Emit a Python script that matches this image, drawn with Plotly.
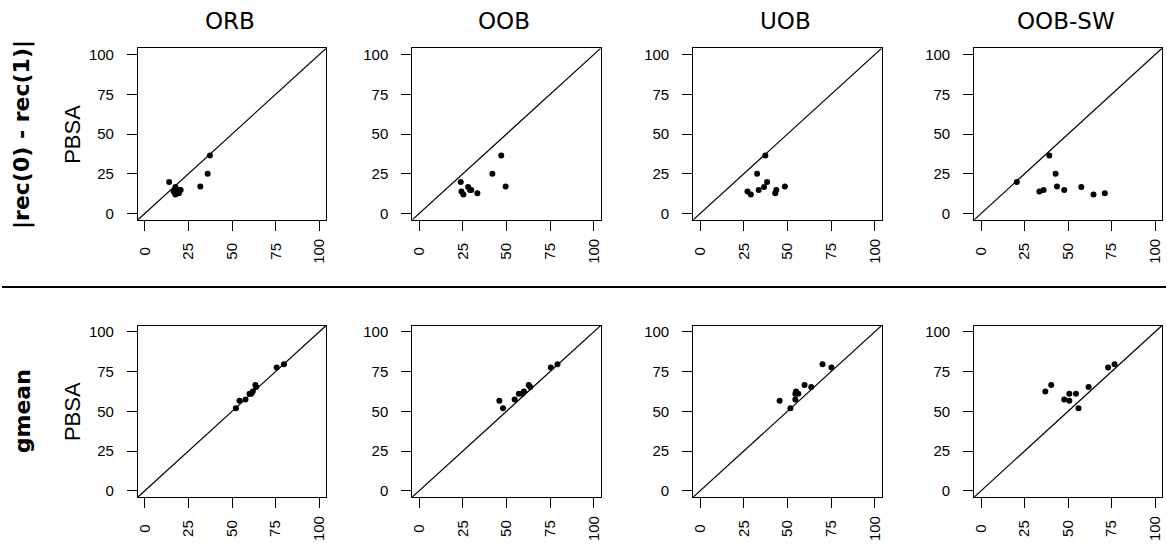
import plotly.graph_objects as go

methods = ["ORB", "OOB", "UOB", "OOB-SW"]
row_labels = ["|rec(0) - rec(1)|", "gmean"]
tick_vals = [0, 25, 50, 75, 100]
tick_text = ["0", "25", "50", "75", "100"]

# Row 1: |rec(0) - rec(1)|  (y = PBSA, x = method)
pbsa_diff = [36.5, 25.0, 19.8, 16.9, 16.7, 14.8, 14.8, 13.8, 12.7, 11.9]
diff_orb = [37.3, 36.0, 13.9, 31.8, 17.5, 19.0, 20.5, 16.5, 19.5, 17.5]
diff_oob = [47.0, 41.9, 23.8, 49.5, 28.0, 29.1, 29.8, 24.2, 33.3, 25.3]
diff_uob = [37.3, 32.6, 38.3, 48.5, 36.6, 33.5, 43.6, 27.1, 43.0, 29.0]
diff_oobsw = [39.2, 42.8, 20.5, 43.6, 57.6, 35.9, 47.8, 33.5, 71.1, 64.6]

# Row 2: gmean
pbsa_gm = [79.6, 77.5, 66.5, 65.3, 62.5, 61.0, 61.0, 57.5, 56.7, 51.9]
gm_orb = [79.8, 75.6, 63.4, 63.8, 61.9, 60.0, 61.0, 57.7, 54.3, 52.2]
gm_oob = [79.2, 75.4, 62.7, 63.6, 60.0, 57.1, 59.0, 54.7, 45.9, 48.0]
gm_uob = [70.1, 75.2, 59.8, 63.6, 54.9, 54.5, 56.2, 54.5, 45.5, 51.7]
gm_oobsw = [76.7, 73.0, 40.3, 61.8, 36.9, 50.7, 54.5, 47.8, 50.7, 56.0]

rows = [
    (pbsa_diff, [diff_orb, diff_oob, diff_uob, diff_oobsw]),
    (pbsa_gm, [gm_orb, gm_oob, gm_uob, gm_oobsw]),
]

W, H = 1167, 548
col_px = [(136.3, 325.0), (411.3, 600.3), (693.0, 882.0), (974.7, 1163.0)]
row_px = [(46.6, 219.4), (325.9, 498.7)]
RANGE = [-4, 104]

# pad rotated x labels so that they are centred below the axis
NB = "\u00a0"
x_tick_text = []
for t in tick_text:
    pad = {1: 2, 2: 1, 3: 0}[len(t)]
    x_tick_text.append(t + NB * pad)

fig = go.Figure()
layout = dict(
    width=W, height=H,
    margin=dict(l=0, r=0, t=0, b=0),
    paper_bgcolor="white", plot_bgcolor="white",
    showlegend=False,
    shapes=[], annotations=[],
)

tick_font = dict(family="Liberation Sans, Arial, sans-serif", size=15, color="black")

k = 0
for r, (yvals, xsets) in enumerate(rows):
    y0p, y1p = row_px[r]
    for c, xvals in enumerate(xsets):
        k += 1
        sfx = "" if k == 1 else str(k)
        x0p, x1p = col_px[c]
        fig.add_trace(go.Scatter(
            x=xvals, y=yvals, mode="markers",
            marker=dict(color="black", size=6),
            xaxis="x" + sfx, yaxis="y" + sfx, hoverinfo="x+y",
        ))
        common = dict(
            range=RANGE, tickvals=tick_vals,
            ticks="outside", ticklen=10, tickwidth=1, tickcolor="black",
            showline=True, linecolor="black", linewidth=1, mirror=True,
            showgrid=False, zeroline=False, tickfont=tick_font, fixedrange=True,
        )
        layout["xaxis" + sfx] = dict(
            domain=[x0p / W, x1p / W], anchor="y" + sfx, tickangle=-90,
            ticktext=x_tick_text, ticklabelstandoff=2,
            ticklabeloverflow="allow", **common
        )
        layout["yaxis" + sfx] = dict(
            domain=[1 - y1p / H, 1 - y0p / H], anchor="x" + sfx,
            ticktext=tick_text, ticklabelstandoff=10, **common
        )
        layout["shapes"].append(dict(
            type="line", xref="x" + sfx, yref="y" + sfx,
            x0=RANGE[0], y0=RANGE[0], x1=RANGE[1], y1=RANGE[1],
            line=dict(color="black", width=1.2), layer="below",
        ))

# Column titles
for c, m in enumerate(methods):
    x0p, x1p = col_px[c]
    layout["annotations"].append(dict(
        text=m, xref="paper", yref="paper",
        x=(x0p + x1p) / 2 / W - 0.002, y=1 - 19 / H,
        showarrow=False, xanchor="center", yanchor="middle",
        font=dict(family="DejaVu Sans, Verdana, sans-serif", size=23, color="black"),
    ))

# Row labels and PBSA y-axis titles
for r, lab in enumerate(row_labels):
    y0p, y1p = row_px[r]
    yc = 1 - (y0p + y1p) / 2 / H
    layout["annotations"].append(dict(
        text="<b>" + lab + "</b>", xref="paper", yref="paper",
        x=20 / W, y=yc, textangle=-90, showarrow=False,
        xanchor="center", yanchor="middle",
        font=dict(family="DejaVu Sans, Verdana, sans-serif", size=22, color="black"),
    ))
    layout["annotations"].append(dict(
        text="PBSA", xref="paper", yref="paper",
        x=70 / W, y=yc, textangle=-90, showarrow=False,
        xanchor="center", yanchor="middle",
        font=dict(family="Liberation Sans, Arial, sans-serif", size=22, color="black"),
    ))

# Separator line between rows
layout["shapes"].append(dict(
    type="line", xref="paper", yref="paper",
    x0=0, x1=1, y0=1 - 287 / H, y1=1 - 287 / H,
    line=dict(color="black", width=2),
))

fig.update_layout(**layout)
fig.write_html(
    "out.html",
    config={"displayModeBar": False},
    post_script="document.body.style.margin='0';document.body.style.overflow='hidden';",
)
